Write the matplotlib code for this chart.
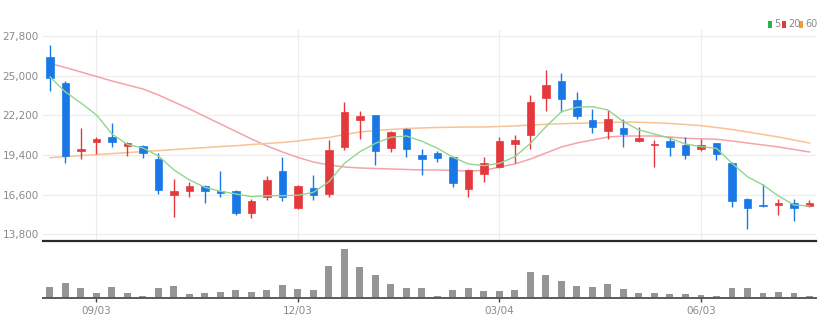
import matplotlib
matplotlib.use("Agg")
import matplotlib.pyplot as plt
from matplotlib.patches import Rectangle
from matplotlib import font_manager as fm

names = {f.name for f in fm.fontManager.ttflist}
FONT = "Liberation Sans Narrow" if "Liberation Sans Narrow" in names else "DejaVu Sans"
plt.rcParams["font.family"] = [FONT, "DejaVu Sans"]

# ---- data (weekly candles) ----
opens = [26341, 24506, 19659, 20317, 20694, 20012, 20035, 19141, 16553, 16882,
         17235, 16882, 16859, 15282, 16459, 18294, 15635, 17070, 16647, 19941,
         21870, 22200, 19894, 21259, 19423, 19517, 19282, 17023, 18059, 18576,
         20176, 20788, 23423, 24600, 23282, 21870, 21070, 21306, 20412, 20082,
         20365, 20129, 19800, 20223, 18859, 16317, 15894, 15894, 15988, 15800]
highs = [27165, 24623, 21282, 20647, 21682, 20317, 20082, 19564, 17682, 17494,
         17259, 18247, 16900, 16270, 17917, 19235, 17259, 17964, 20459, 23141,
         22506, 22247, 21117, 21306, 19800, 19659, 19329, 18435, 19282, 20694,
         20788, 23612, 25400, 25165, 23847, 22670, 22576, 21917, 21400, 20459,
         20694, 20694, 20553, 20250, 18880, 16340, 17353, 16270, 16270, 16223]
lows = [23941, 18859, 19094, 19470, 19941, 19329, 19188, 16647, 15047, 16411,
        15988, 16411, 15188, 14929, 16223, 16176, 15564, 16223, 16459, 19753,
        20506, 18670, 19612, 19282, 18012, 18906, 17117, 16459, 17494, 18482,
        18859, 19847, 22482, 22435, 21917, 20929, 20553, 19988, 20317, 18576,
        19329, 19141, 19659, 19047, 15706, 14200, 15750, 15141, 14764, 15750]
closes = [24859, 19329, 19823, 20553, 20317, 20270, 19517, 16929, 16882, 17211,
          16835, 16694, 15282, 16129, 17635, 16411, 17211, 16553, 19753, 22435,
          22129, 19659, 21023, 19800, 19094, 19212, 17447, 18341, 18859, 20412,
          20459, 23141, 24318, 23329, 22153, 21353, 21965, 20882, 20600, 20176,
          19988, 19423, 20129, 19470, 16129, 15659, 15800, 15988, 15659, 16035]
ma5 = [24906, 23847, 23071, 22223, 20882, 20141, 19894, 19329, 18341, 17635,
       17117, 16835, 16647, 16456, 16527, 16527, 16555, 16767, 17515, 18814,
       19633, 20226, 20649, 20741, 20367, 19873, 19237, 18765, 18645, 18814,
       19280, 20226, 21398, 22456, 22767, 22809, 22576, 21750, 21165, 20882,
       20579, 20176, 19986, 19873, 18814, 17868, 17282, 16506, 15870, 15800]
ma20 = [25859, 25576, 25259, 24941, 24624, 24341, 24059, 23635, 23141, 22647,
        22117, 21588, 21059, 20529, 20035, 19612, 19223, 18906, 18694, 18553,
        18482, 18447, 18412, 18376, 18341, 18341, 18306, 18271, 18306, 18553,
        18765, 19118, 19541, 19965, 20247, 20459, 20671, 20741, 20741, 20741,
        20671, 20579, 20544, 20508, 20388, 20247, 20106, 19965, 19788, 19612]
ma60 = [19209, 19280, 19357, 19428, 19499, 19569, 19640, 19710, 19781, 19852,
        19922, 19993, 20056, 20141, 20212, 20289, 20388, 20529, 20635, 20847,
        21023, 21129, 21200, 21270, 21306, 21341, 21362, 21376, 21376, 21412,
        21447, 21517, 21567, 21609, 21637, 21659, 21694, 21729, 21708, 21673,
        21623, 21553, 21468, 21341, 21200, 21023, 20847, 20670, 20459, 20247]
volumes = [44, 61, 41, 21, 45, 21, 9, 40, 49, 15, 19, 24, 32, 24, 33, 52, 37, 32,
           129, 197, 123, 92, 55, 40, 40, 8, 32, 40, 28, 28, 33, 104, 92, 68, 49,
           44, 55, 37, 19, 21, 16, 15, 13, 9, 40, 40, 21, 24, 21, 7]
tick_idx = [3, 16, 29, 42]
tick_labels = ["09/03", "12/03", "03/04", "06/03"]
y_ticks = [13800, 16600, 19400, 22200, 25000, 27800]
ma_labels = ["5", "20", "60"]

RED = "#e5383c"
BLUE = "#1a78e6"
GRAY_TXT = "#8a8a8a"

W, H = 833, 335
fig = plt.figure(figsize=(W / 100, H / 100), dpi=100)
L, R = 43 / W, 816 / W
ax = fig.add_axes([L, 1 - 241 / H, R - L, (241 - 30) / H])
axv = fig.add_axes([L, 1 - 298 / H, R - L, 55 / H], sharex=ax)

n = len(opens)
xs = list(range(n))
bw = 0.46
for i in xs:
    o, h, l, c = opens[i], highs[i], lows[i], closes[i]
    col = RED if c >= o else BLUE
    ax.vlines(i, l, h, color=col, lw=1.0, zorder=3)
    lo, hi = min(o, c), max(o, c)
    if hi - lo < 60:
        lo, hi = (lo + hi) / 2 - 30, (lo + hi) / 2 + 30
    ax.add_patch(Rectangle((i - bw / 2, lo), bw, hi - lo, facecolor=col,
                           edgecolor=col, lw=0.5, zorder=4))

ax.plot(xs, ma5, color="#8ed88e", lw=1.0, zorder=5)
ax.plot(xs, ma20, color="#f4a3ab", lw=1.1, zorder=2)
ax.plot(xs, ma60, color="#f7c393", lw=1.1, zorder=2)

ax.set_xlim(-0.45, 49.42)
ax.set_ylim(13327, 28224)
ax.set_yticks(y_ticks)
ax.set_yticklabels([f"{v:,}" for v in y_ticks])
ax.tick_params(axis="y", length=0, pad=3, labelsize=7.5, labelcolor=GRAY_TXT)
ax.tick_params(axis="x", length=0, labelbottom=False)
ax.set_xticks(tick_idx)
ax.grid(True, color="#ececec", lw=0.8, zorder=0)
for s in ["top", "left", "right"]:
    ax.spines[s].set_visible(False)
ax.spines["bottom"].set_color("#2a2a2a")
ax.spines["bottom"].set_linewidth(1.6)

# volume
axv.bar(xs, volumes, width=0.45, color="#959595", zorder=2)
axv.set_ylim(0, 220)
axv.set_yticks([])
axv.set_xticks(tick_idx)
axv.set_xticklabels(tick_labels)
axv.tick_params(axis="x", length=3, width=1, color="#444444", pad=3,
                labelsize=7.5, labelcolor=GRAY_TXT)
for s in ["top", "left", "right"]:
    axv.spines[s].set_visible(False)
axv.spines["bottom"].set_color("#5a5a5a")
axv.spines["bottom"].set_linewidth(1.4)

# legend (top right)
leg_cols = ["#25b34a", "#e5383c", "#f39a3a"]
leg_x = [768, 782, 799]
for lab, colr, xp in zip(ma_labels, leg_cols, leg_x):
    fig.patches.append(Rectangle((xp / W, 1 - 27.5 / H), 4 / W, 7 / H,
                                 transform=fig.transFigure, facecolor=colr,
                                 edgecolor="none"))
    fig.text((xp + 6) / W, 1 - 24 / H, lab, fontsize=7, color=GRAY_TXT,
             va="center", ha="left")

fig.savefig("out.png", dpi=100)
